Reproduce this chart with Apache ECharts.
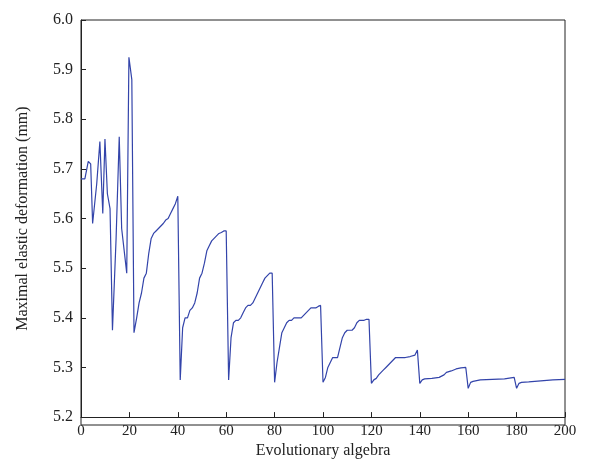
<!DOCTYPE html>
<html><head><meta charset="utf-8">
<script src="https://cdn.jsdelivr.net/npm/echarts@6/dist/echarts.min.js"></script>
<style>html,body{margin:0;padding:0;background:#fff}#c{width:600px;height:464px}</style>
</head><body><div id="c"></div>
<script>
var gens = [0,1.6,3,4,4.8,6.5,7.8,9,9.9,10.9,12,13,14.5,15.8,16.8,18.9,19.8,21,21.9,23,24,25,26,27,28,29,30,31,32,33,34,35,36,37,38,39,40,
  41,42,43,44,45,46,47,48,49,50,51,52,53,54,55,56,57,58,59,60,
  61,62,63,64,65,66,67,68,69,70,71,72,73,74,75,76,77,78,79,80,
  81,82,83,84,85,86,87,88,89,90,91,92,93,94,95,96,97,98,99,100,
  101,102,103,104,105,106,107,108,109,110,111,112,113,114,115,116,117,118,119,120,
  121,122,123,124,125,126,127,128,129,130,132,134,136,138,139,140,
  141,142,145,148,150,151,153,155,157,159,160,161,162,165,170,175,179,180,181,182,185,190,195,200];
var deform = [5.68,5.68,5.715,5.71,5.59,5.67,5.755,5.61,5.76,5.65,5.62,5.375,5.56,5.765,5.58,5.49,5.925,5.88,5.37,5.40,5.43,5.45,5.48,5.49,5.53,5.56,5.57,5.575,5.58,5.585,5.59,5.597,5.60,5.61,5.62,5.63,5.645,
  5.275,5.38,5.40,5.40,5.415,5.42,5.43,5.45,5.48,5.49,5.51,5.535,5.545,5.555,5.56,5.565,5.57,5.572,5.575,5.575,
  5.275,5.36,5.39,5.395,5.395,5.40,5.41,5.42,5.425,5.425,5.43,5.44,5.45,5.46,5.47,5.48,5.485,5.49,5.49,5.27,
  5.31,5.34,5.37,5.38,5.39,5.395,5.395,5.40,5.40,5.40,5.40,5.405,5.41,5.415,5.42,5.42,5.42,5.423,5.425,5.27,
  5.28,5.30,5.31,5.32,5.32,5.32,5.34,5.36,5.37,5.375,5.375,5.375,5.38,5.39,5.395,5.395,5.395,5.397,5.397,5.268,
  5.275,5.278,5.285,5.29,5.295,5.30,5.305,5.31,5.315,5.32,5.32,5.32,5.322,5.325,5.335,5.268,
  5.275,5.277,5.278,5.28,5.285,5.29,5.293,5.297,5.299,5.30,5.258,5.27,5.272,5.275,5.276,5.277,5.28,5.258,5.268,5.27,5.271,5.273,5.275,5.276];

var font = 'Liberation Serif';
var chart = echarts.init(document.getElementById('c'));
var option = {
  animation: false,
  grid: { left: 81, right: 35, top: 20, bottom: 39 },
  xAxis: {
    type: 'value', min: 0, max: 200, interval: 20,
    name: 'Evolutionary algebra', nameLocation: 'middle', nameGap: 24,
    nameTextStyle: { fontFamily: font, fontSize: 16, color: '#222' },
    axisLine: { onZero: false, lineStyle: { color: '#222' } },
    axisTick: { inside: true, length: 5, lineStyle: { color: '#222' } },
    axisLabel: { fontFamily: font, fontSize: 15, color: '#222', margin: 6 },
    splitLine: { show: false }
  },
  yAxis: {
    type: 'value', min: 5.2, max: 6.0, interval: 0.1,
    name: 'Maximal elastic deformation (mm)', nameLocation: 'middle', nameGap: 50,
    nameTextStyle: { fontFamily: font, fontSize: 16, color: '#222' },
    axisLine: { show: true, lineStyle: { color: '#222' } },
    axisTick: { show: true, inside: true, length: 5, lineStyle: { color: '#222' } },
    axisLabel: { fontFamily: font, fontSize: 16, color: '#222', formatter: function (v) { return v.toFixed(1); } },
    splitLine: { show: false }
  },
  series: [{
    type: 'line', showSymbol: false,
    data: gens.map(function (g, i) { return [g, deform[i]]; }),
    lineStyle: { color: '#3344aa', width: 1.2 }
  }],
  graphic: [{
    type: 'rect', shape: { x: 81, y: 20, width: 484, height: 405 },
    style: { fill: 'none', stroke: '#222', lineWidth: 1 }, silent: true
  }]
};
chart.setOption(option);
</script></body></html>
